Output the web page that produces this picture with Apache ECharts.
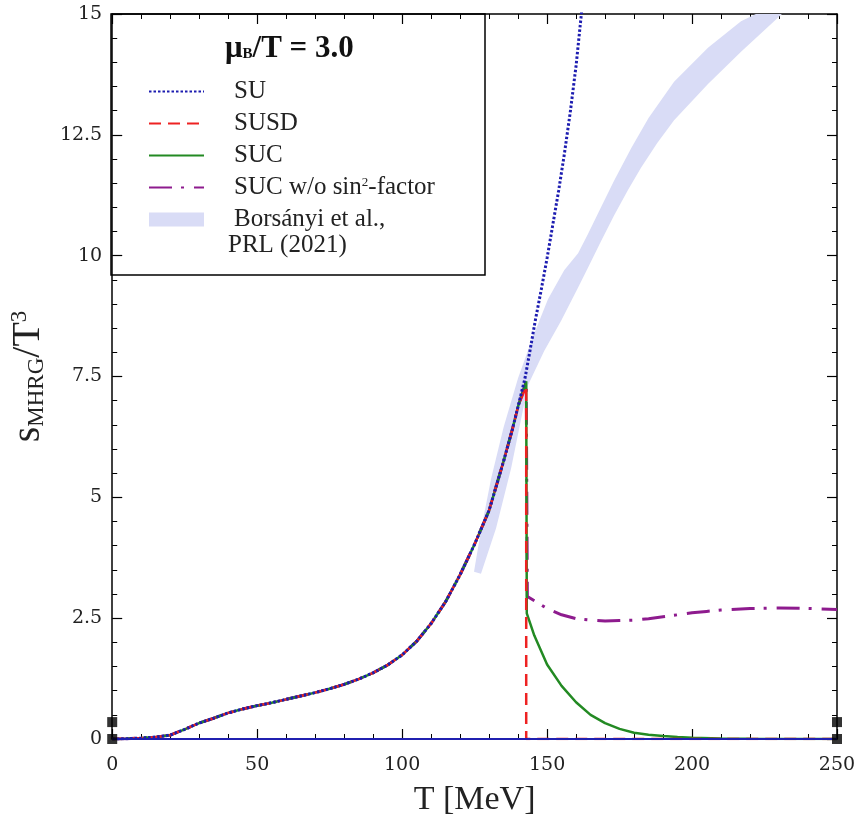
<!DOCTYPE html>
<html>
<head>
<meta charset="utf-8">
<script src="https://cdn.jsdelivr.net/npm/echarts@6/dist/echarts.min.js"></script>
<style>
html,body{margin:0;padding:0;background:#fff;}
#chart{width:860px;height:822px;}
</style>
</head>
<body>
<div id="chart"></div>
<script>
// ---- data (T in MeV, s/T^3) ----
var commonT = [0, 5, 10, 15, 20, 25, 30, 35, 40, 45, 50, 55, 60, 65, 70, 75, 80, 85, 90, 95, 100, 105, 110, 115, 120, 125, 130, 135, 138, 140];
var commonS = [0, 0.005, 0.02, 0.04, 0.08, 0.2, 0.33, 0.43, 0.54, 0.62, 0.69, 0.75, 0.82, 0.89, 0.96, 1.04, 1.13, 1.24, 1.37, 1.53, 1.74, 2.02, 2.39, 2.84, 3.40, 4.03, 4.73, 5.75, 6.40, 6.88];

var suT = [142.4, 144, 146, 148, 150, 152, 154, 156, 158, 160, 162];
var suS = [7.47, 8.0, 8.68, 9.3, 9.95, 10.65, 11.35, 12.12, 12.97, 13.93, 15.1];

var susdT = [142.8, 142.8, 250];
var susdS = [7.3, 0, 0];

var sucT = [142.8, 143, 145.6, 150, 155, 160, 165, 170, 175, 180, 185, 190, 195, 200, 210, 220, 250];
var sucS = [7.4, 2.6, 2.14, 1.54, 1.1, 0.76, 0.5, 0.33, 0.21, 0.13, 0.09, 0.06, 0.04, 0.025, 0.01, 0.004, 0];

var sucNoSinT = [142.8, 143.2, 147, 150, 155, 160, 165, 170, 175, 180, 185, 190, 195, 200, 205, 210, 220, 230, 240, 250];
var sucNoSinS = [7.4, 2.95, 2.81, 2.7, 2.57, 2.49, 2.46, 2.44, 2.45, 2.46, 2.49, 2.53, 2.57, 2.61, 2.64, 2.67, 2.7, 2.71, 2.7, 2.68];

var bandUpperT = [124.8, 127, 130.7, 135, 140, 145, 150.3, 155.9, 160.7, 164.1, 168.6, 173.1, 179, 185, 193.8, 205.5, 216.9, 222];
var bandUpperS = [3.46, 4.25, 5.39, 6.45, 7.47, 8.3, 9.1, 9.7, 10.05, 10.45, 11.0, 11.55, 12.22, 12.85, 13.6, 14.3, 14.85, 15];
var bandLowerT = [127.2, 132.4, 137.6, 143.4, 149, 154.8, 160.7, 164.1, 168.6, 173.1, 177.9, 182.4, 188, 193.8, 205.5, 216.9, 228.3, 231];
var bandLowerS = [3.42, 4.36, 5.6, 7.32, 8.03, 8.65, 9.34, 9.75, 10.3, 10.83, 11.36, 11.82, 12.33, 12.8, 13.55, 14.22, 14.85, 15];

var zeroT = [0, 250];
var zeroS = [0, 0];

var markerT = [0, 0, 250, 250];
var markerS = [0, 0.35, 0, 0.35];

var xTicks = [0, 50, 100, 150, 200, 250];
var yTicks = ['0', '2.5', '5', '7.5', '10', '12.5', '15'];

function pairs(a, b) { return a.map(function (v, i) { return [v, b[i]]; }); }
var common = pairs(commonT, commonS);

var serif = '"Liberation Serif", "DejaVu Serif", serif';
var tickFont = '"DejaVu Serif", serif';

var chart = echarts.init(document.getElementById('chart'), null, {renderer: 'canvas'});

var axisCommonX = {
  type: 'value', min: 0, max: 250, interval: 50,
  axisLine: {show: true, onZero: false, lineStyle: {color: '#000', width: 1.5}},
  axisTick: {show: true, inside: true, length: 10, lineStyle: {color: '#000', width: 1.2}},
  minorTick: {show: true, splitNumber: 5, length: 5, lineStyle: {color: '#000', width: 1}},
  splitLine: {show: false}
};
var axisCommonY = {
  type: 'value', min: 0, max: 15, interval: 2.5,
  axisLine: {show: true, onZero: false, lineStyle: {color: '#000', width: 1.5}},
  axisTick: {show: true, inside: true, length: 10, lineStyle: {color: '#000', width: 1.2}},
  minorTick: {show: true, splitNumber: 5, length: 5, lineStyle: {color: '#000', width: 1}},
  splitLine: {show: false}
};

var option = {
  animation: false,
  backgroundColor: '#fff',
  grid: {left: 111, right: 23, top: 14, bottom: 82, containLabel: false},
  xAxis: [
    Object.assign({}, axisCommonX, {
      position: 'bottom',
      name: 'T [MeV]', nameLocation: 'middle', nameGap: 44,
      nameTextStyle: {fontFamily: serif, fontSize: 34, color: '#222'},
      axisLabel: {show: true, margin: 17, fontFamily: tickFont, fontSize: 19, color: '#222',
        formatter: function (v) { return xTicks.indexOf(v) >= 0 ? String(v) : ''; }}
    }),
    Object.assign({}, axisCommonX, {position: 'top', axisLabel: {show: false}})
  ],
  yAxis: [
    Object.assign({}, axisCommonY, {
      position: 'left',
      name: '{s|s}{sub|MHRG}{s|/T}{sup|3}', nameLocation: 'middle', nameGap: 44, nameRotate: 90,
      nameTextStyle: {
        fontFamily: serif, fontSize: 40, color: '#222',
        rich: {
          s: {fontFamily: serif, fontSize: 40, color: '#222', lineHeight: 48},
          sub: {fontFamily: serif, fontSize: 23, color: '#222', lineHeight: 48, padding: [16, 0, 0, 0]},
          sup: {fontFamily: serif, fontSize: 23, color: '#222', lineHeight: 48, padding: [0, 0, 18, 0]}
        }
      },
      axisLabel: {show: true, margin: 10, fontFamily: tickFont, fontSize: 19, color: '#222',
        formatter: function (v) { var s = String(v); return yTicks.indexOf(s) >= 0 ? s : ''; }}
    }),
    Object.assign({}, axisCommonY, {position: 'right', axisLabel: {show: false}})
  ],
  legend: {
    left: 143, top: 74, orient: 'vertical',
    itemWidth: 55, itemHeight: 14, itemGap: 7,
    itemStyle: {opacity: 0},
    textStyle: {fontFamily: serif, fontSize: 25, color: '#222', lineHeight: 24, padding: [0, 0, 0, 25],
      rich: {
        a: {fontFamily: serif, fontSize: 25, color: '#222'},
        sup: {fontFamily: serif, fontSize: 13, color: '#222', padding: [0, 0, 10, 0]}
      }
    },
    formatter: function (name) {
      if (name === 'SUC w/o sin2-factor') return '{a|SUC w/o sin}{sup|2}{a|-factor}';
      return name;
    },
    data: [
      {name: 'SU'},
      {name: 'SUSD'},
      {name: 'SUC'},
      {name: 'SUC w/o sin2-factor'},
      {name: 'Borsányi et al.,', icon: 'rect', itemStyle: {opacity: 1, color: '#d9dcf6'}}
    ]
  },
  graphic: [
    {type: 'rect', shape: {x: 111, y: 14, width: 374, height: 261}, style: {fill: 'none', stroke: '#000', lineWidth: 1.5}, z: 100},
    {type: 'text', left: 225, top: 33, z: 100, style: {
      text: '{m|μ}{b|B}{m|/T = 3.0}',
      rich: {
        m: {fontFamily: serif, fontSize: 31, fill: '#111', fontWeight: 'bold'},
        b: {fontFamily: serif, fontSize: 15, fill: '#111', fontWeight: 'bold', padding: [11, 0, 0, 0]}
      }
    }},
    {type: 'text', left: 228, top: 233, z: 100, style: {text: 'PRL (2021)', fontFamily: serif, fontSize: 25, fill: '#222'}}
  ],
  series: [
    {
      name: 'Borsányi et al.,', type: 'custom', xAxisIndex: 0, yAxisIndex: 0,
      itemStyle: {color: '#d9dcf6'},
      data: [[0]],
      z: 1,
      renderItem: function (params, api) {
        var pts = [];
        for (var i = 0; i < bandUpperT.length; i++) pts.push(api.coord([bandUpperT[i], bandUpperS[i]]));
        for (var j = bandLowerT.length - 1; j >= 0; j--) pts.push(api.coord([bandLowerT[j], bandLowerS[j]]));
        return {type: 'polygon', shape: {points: pts}, style: {fill: '#d9dcf6'}};
      }
    },
    {
      name: 'SUC w/o sin2-factor', type: 'line', symbol: 'none', z: 2,
      data: common.concat(pairs(sucNoSinT, sucNoSinS)),
      lineStyle: {color: '#8e1b8e', width: 3, type: [23, 9, 3, 10]},
      itemStyle: {color: '#8e1b8e'}
    },
    {
      name: 'SUC', type: 'line', symbol: 'none', z: 3,
      data: common.concat(pairs(sucT, sucS)),
      lineStyle: {color: '#238a23', width: 2.5, type: 'solid'},
      itemStyle: {color: '#238a23'}
    },
    {
      name: 'SUSD', type: 'line', symbol: 'none', z: 4,
      data: common.concat(pairs(susdT, susdS)),
      lineStyle: {color: '#ee2222', width: 2.5, type: [12, 7]},
      itemStyle: {color: '#ee2222'}
    },
    {
      name: 'SU', type: 'line', symbol: 'none', z: 5,
      data: common.concat(pairs(suT, suS)),
      lineStyle: {color: '#1c1cb0', width: 3, type: [2.5, 2]},
      itemStyle: {color: '#1c1cb0'}
    },
    {
      name: 'zero', type: 'line', symbol: 'none', z: 6,
      data: pairs(zeroT, zeroS),
      lineStyle: {color: '#2020b0', width: 2, type: 'solid'}
    },
    {
      name: 'markers', type: 'scatter', symbol: 'rect', symbolSize: 10, z: 7,
      data: pairs(markerT, markerS),
      itemStyle: {color: '#000'}
    }
  ]
};
chart.setOption(option);
</script>
</body>
</html>
